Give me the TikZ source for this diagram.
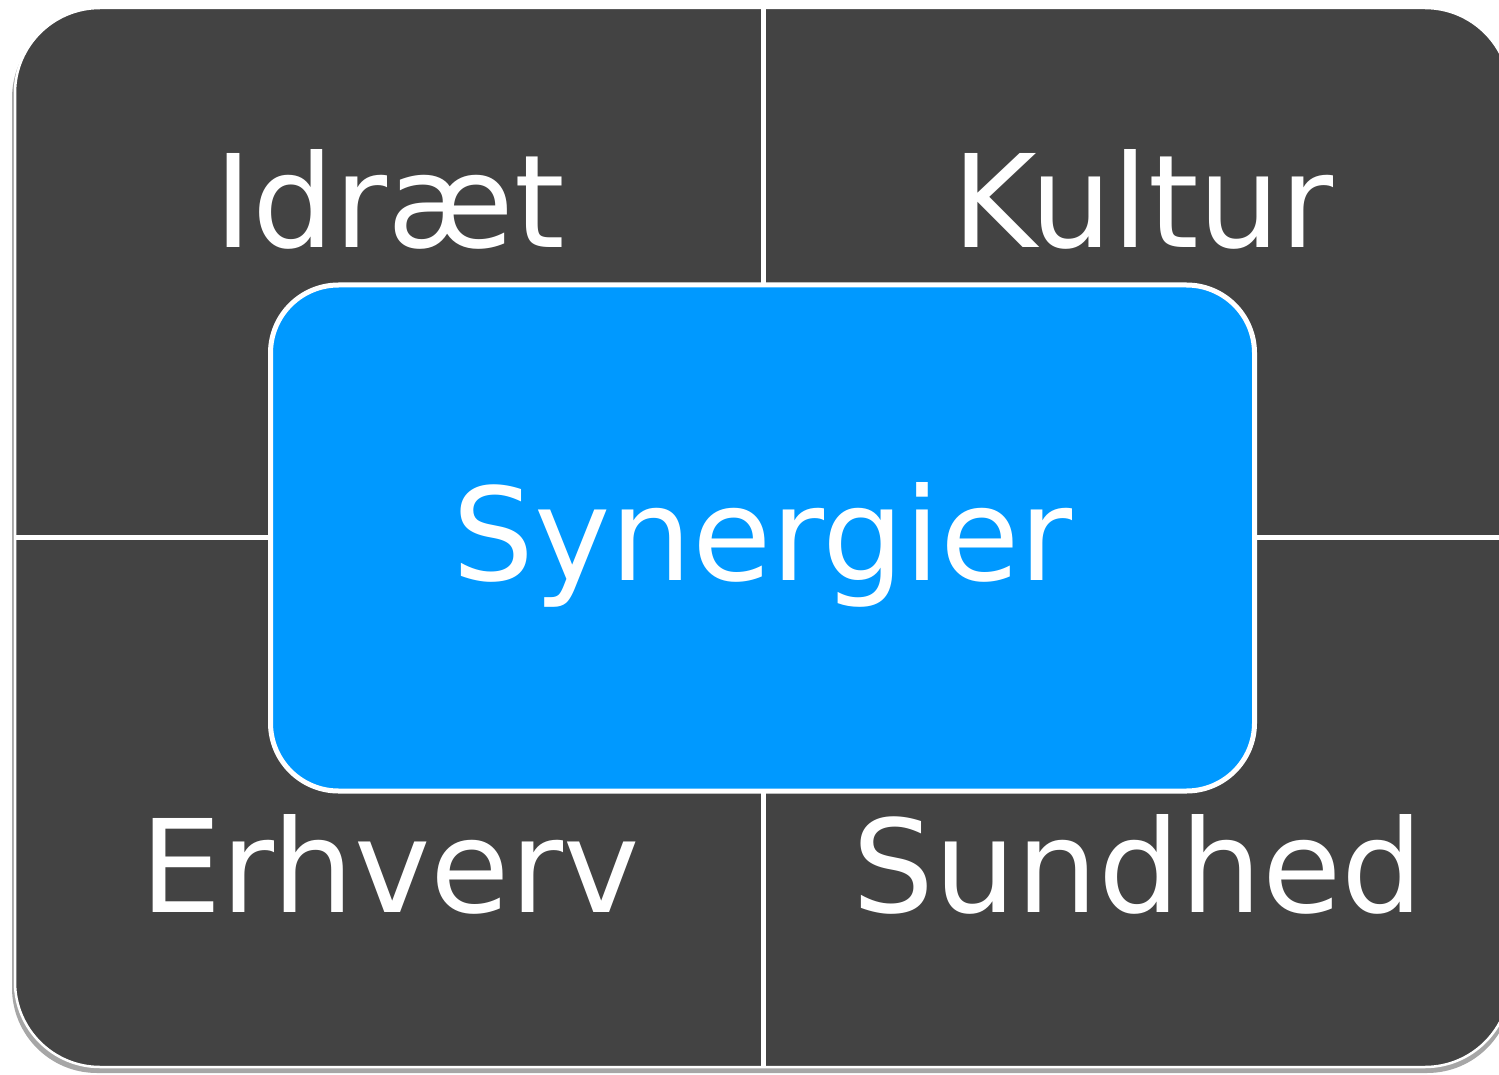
\documentclass[tikz,border=0pt]{standalone}
\usepackage{fontspec}
\setmainfont{DejaVu Sans}
\definecolor{panelgray}{HTML}{434343}
\definecolor{synblue}{HTML}{0099FF}

\begin{document}
\begin{tikzpicture}[x=1pt,y=-1pt,
  word/.style={text=white,font=\fontsize{129}{150}\selectfont,anchor=base,inner sep=0pt},
  divider/.style={white,line width=5pt},
  synbox/.style={draw=white,fill=synblue,line width=5pt,rounded corners=68pt,
    minimum width=984pt,minimum height=506pt,inner sep=0pt}]
\useasboundingbox (0,0) rectangle (1499,1075);

% soft shadow under the panel
\fill[black!35,rounded corners=85pt] (12,13) rectangle (1512,1073);
% dark panel
\filldraw[fill=panelgray,draw=white,line width=2.5pt,rounded corners=85pt] (15,8) rectangle (1510,1067);

% white dividers between the four fields
\draw[divider] (763.5,8) -- (763.5,1067);
\draw[divider] (15,537.5) -- (1510,537.5);

% centre box
\node[synbox] (syn) at (762.5,538) {};
\node[word] (synergier) at ([yshift=-42pt]syn.center) {Synergier};

% the four fields
\node[word] (idraet) at (390,248) {Idræt};
\node[word] (kultur) at (1143,248) {Kultur};
\node[word] (erhverv) at (390,912) {Erhverv};
\node[word] (sundhed) at (1138,912) {Sundhed};

\end{tikzpicture}
\end{document}
